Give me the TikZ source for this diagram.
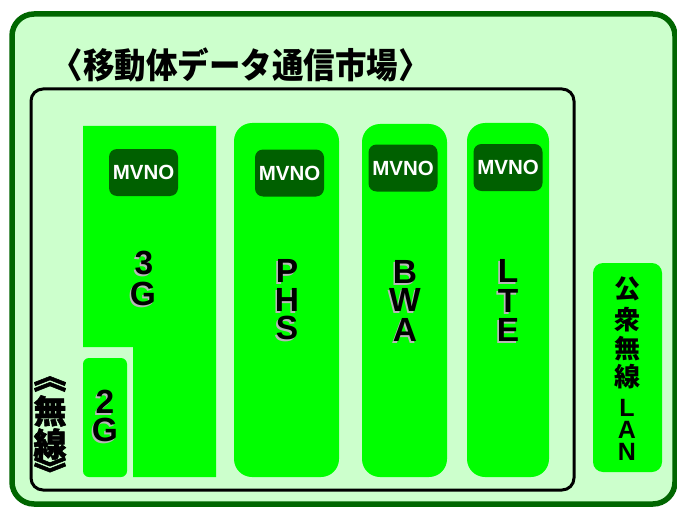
\documentclass[tikz,border=0pt]{standalone}
\usepackage{fontspec}
\setmainfont{Liberation Sans}
\newfontfamily\jp{Noto Sans CJK JP}
\newfontfamily\jph{Noto Sans CJK JP}[BoldFeatures={FakeBold=1.6}]
\definecolor{bggreen}{HTML}{CCFFCC}
\definecolor{framegreen}{HTML}{006600}
\definecolor{brightgreen}{HTML}{00FF00}
\definecolor{mvnogreen}{HTML}{006000}
\definecolor{shadowgray}{HTML}{B8B8B8}
\newcommand\colletter[4]{\node[lsh] at (#2,#3) {#4}; \node[lbl] (#1) at (#2,#3) {#4};}
\begin{document}
\begin{tikzpicture}[x=1pt,y=-1pt,
  col/.style={fill=brightgreen, draw=none},
  mvno/.style={fill=mvnogreen, rounded corners=8pt, minimum width=69pt, minimum height=47pt, inner sep=0pt, text=white, font=\bfseries\fontsize{20.5}{20.5}\selectfont},
  lbl/.style={inner sep=0pt, font=\bfseries\fontsize{33.5}{33.5}\selectfont},
  lsh/.style={lbl, text=shadowgray, xshift=-1.6pt, yshift=-1.6pt},
  ttl/.style={inner sep=0pt, font=\jp\bfseries\fontsize{35}{35}\selectfont},
  jpl/.style={inner sep=0pt, font=\jp\bfseries\fontsize{26}{26}\selectfont},
  lanl/.style={inner sep=0pt, font=\bfseries\fontsize{25}{25}\selectfont},
  wl/.style={inner sep=0pt, font=\jph\bfseries\fontsize{33}{33}\selectfont},
]
\useasboundingbox (0,0) rectangle (677,508);
\fill[white] (0,0) rectangle (677,508);
% outer frame
\draw[line width=5.5pt, draw=framegreen, fill=bggreen, rounded corners=22pt] (12,14) rectangle (675,504);
% title
\node[ttl] (title) at (240.5,65) {\scalebox{0.9}[1]{〈移動体データ通信市場〉}};
% inner market box
\draw[line width=3pt, rounded corners=12pt] (31,89) rectangle (574,490);
% 3G column (L-shape)
\fill[brightgreen] (83,126) -- (216,126) -- (216,477) -- (133,477) -- (133,347) -- (83,347) -- cycle;
% 2G column
\path[col, rounded corners=6pt] (83,358) rectangle (127,477);
% PHS, BWA, LTE columns
\path[col, rounded corners=18pt] (234,123) rectangle (339,477);
\path[col, rounded corners=18pt] (362,124) rectangle (447,477);
\path[col, rounded corners=18pt] (467,123) rectangle (549,477);
% public wireless LAN
\path[col, rounded corners=10pt] (593,263) rectangle (662,472);
% MVNO boxes
\node[mvno] (m3g) at (143.5,172.5) {MVNO};
\node[mvno] (mphs) at (289.5,173) {MVNO};
\node[mvno] (mbwa) at (403,168) {MVNO};
\node[mvno] (mlte) at (508,167.5) {MVNO};
% column letters
\colletter{g3a}{144}{263}{3}
\colletter{g3b}{143}{294}{G}
\colletter{g2a}{105}{402}{2}
\colletter{g2b}{105}{430}{G}
\colletter{pa}{287}{271}{P}
\colletter{pb}{287}{300}{H}
\colletter{pc}{287}{328}{S}
\colletter{ba}{405}{272}{B}
\colletter{bb}{405}{300}{W}
\colletter{bc}{405}{330}{A}
\colletter{la}{508}{271}{L}
\colletter{lb}{508}{301}{T}
\colletter{lc}{508}{330}{E}
% LAN text
\node[jpl] (k1) at (627,289) {公};
\node[jpl] (k2) at (627,320) {衆};
\node[jpl] (k3) at (627,349) {無};
\node[jpl] (k4) at (627,377) {線};
\node[lanl] (n1) at (627,408) {L};
\node[lanl] (n2) at (627,430) {A};
\node[lanl] (n3) at (627,452) {N};
% wireless label
\node[wl] (w1) at (50,384) {︽};
\node[wl] (w2) at (50,411) {無};
\node[wl] (w3) at (50,444) {線};
\node[wl] (w4) at (50,471) {︾};
\end{tikzpicture}
\end{document}
